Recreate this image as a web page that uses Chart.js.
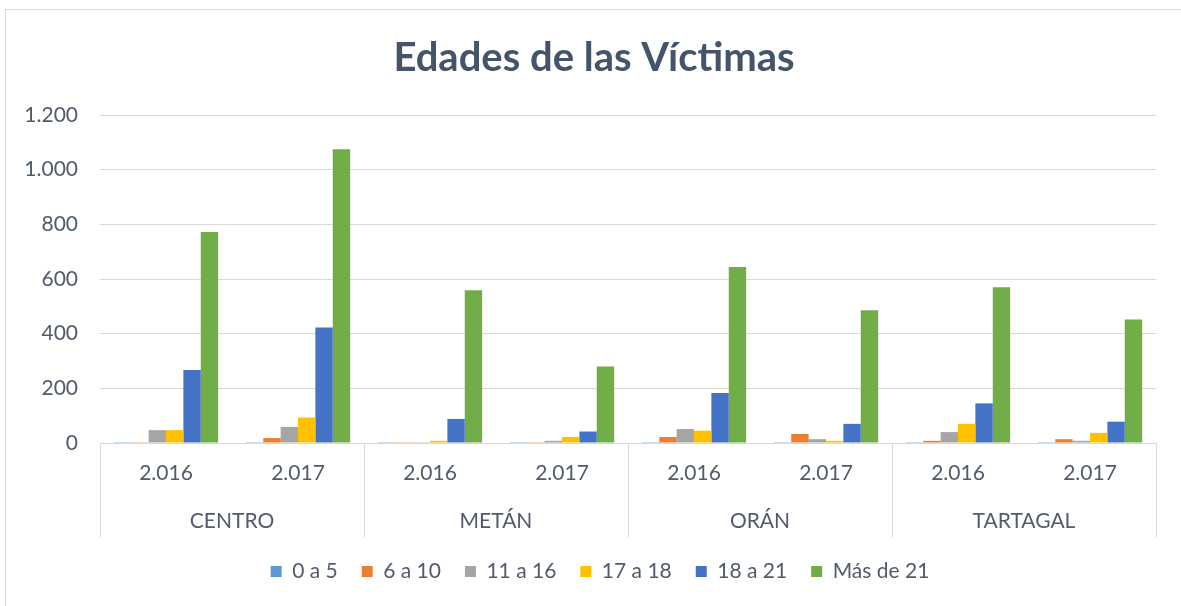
<!DOCTYPE html>
<html>
<head>
<meta charset="utf-8">
<script src="https://cdn.jsdelivr.net/npm/chart.js@4/dist/chart.umd.min.js"></script>
<style>
  html, body { margin: 0; padding: 0; background: #fff; }
  #wrap { width: 1181px; height: 606px; position: relative; }
</style>
</head>
<body>
<div id="wrap"><canvas id="edadesChart" width="1181" height="606"></canvas></div>
<script>
// data
var regiones = ["CENTRO", "METÁN", "ORÁN", "TARTAGAL"];
var anios = ["2.016", "2.017"];
var categorias = ["2.016", "2.017", "2.016", "2.017", "2.016", "2.017", "2.016", "2.017"];
var rangos = ["0 a 5", "6 a 10", "11 a 16", "17 a 18", "18 a 21", "Más de 21"];

var edad0a5   = [3, 3, 3, 3, 3, 3, 3, 3];
var edad6a10  = [3, 18, 3, 3, 22, 33, 8, 14];
var edad11a16 = [47, 59, 3, 8, 51, 14, 40, 8];
var edad17a18 = [47, 93, 8, 22, 45, 8, 70, 37];
var edad18a21 = [267, 423, 88, 42, 183, 70, 145, 78];
var edadMas21 = [772, 1075, 559, 280, 644, 486, 570, 452];

var yTicks = [0, 200, 400, 600, 800, 1000, 1200];

var colores = ["#5b9bd5", "#ed7d31", "#a5a5a5", "#ffc000", "#4472c4", "#70ad47"];
var series = [edad0a5, edad6a10, edad11a16, edad17a18, edad18a21, edadMas21];

var gridColor = "#d9d9d9";
var textColor = "#505c6b";
var fontFam = "Lato, 'Open Sans', sans-serif";

function fmtMiles(v){
	return String(v).replace(/\B(?=(\d{3})+(?!\d))/g, ".");
}

var datasets = rangos.map(function(r, i){
	return {
		label: r,
		data: series[i],
		backgroundColor: colores[i],
		borderWidth: 0,
		barPercentage: 1.0,
		categoryPercentage: 0.79,
		xAxisID: "x"
	};
});

// outer frame, group separators of the two level axis, small shift of title/legend
var marcoPlugin = {
	id: "marco",
	afterLayout: function(chart){
		var lg = chart.legend, tt = chart.titleBlock;
		if (lg){ lg.left += 13; lg.right += 13; }
		if (tt){ tt.left += 7; tt.right += 7; }
	},
	beforeDraw: function(chart){
		var c = chart.ctx;
		c.save();
		c.strokeStyle = gridColor;
		c.lineWidth = 1;
		c.strokeRect(5.5, 9.5, 1300, 700);
		c.restore();
	},
	afterDraw: function(chart){
		var x = chart.scales.x, x2 = chart.scales.x2;
		var c = chart.ctx;
		c.save();
		c.strokeStyle = gridColor;
		c.lineWidth = 1;
		var n = regiones.length;
		for (var i = 0; i <= n; i++){
			var px = Math.round(x.left + i * (x.right - x.left) / n) + 0.5;
			c.beginPath();
			c.moveTo(px, chart.chartArea.bottom);
			c.lineTo(px, x2.top + 50);
			c.stroke();
		}
		c.restore();
	}
};

var conf_bar = {
	type: "bar",
	data: {
		labels: categorias,
		datasets: datasets
	},
	options: {
		responsive: false,
		animation: false,
		layout: { padding: { left: 18, right: 25, top: 0, bottom: 14 } },
		plugins: {
			title: {
				display: true,
				text: "Edades de las Víctimas",
				color: "#44546a",
				font: { family: fontFam, size: 40, weight: "bold" },
				padding: { top: 34, bottom: 33 }
			},
			legend: {
				position: "bottom",
				labels: {
					color: textColor,
					font: { family: fontFam, size: 21 },
					boxWidth: 11,
					boxHeight: 11,
					padding: 24
				}
			},
			tooltip: { enabled: false }
		},
		scales: {
			x: {
				type: "category",
				grid: { display: false, drawTicks: false },
				border: { display: true, color: gridColor },
				ticks: {
					color: textColor,
					font: { family: fontFam, size: 21 },
					padding: 18,
					maxRotation: 0
				},
				afterFit: function(s){ s.height = 44; }
			},
			x2: {
				type: "category",
				labels: regiones,
				offset: true,
				grid: { display: false, drawTicks: false },
				border: { display: false },
				ticks: {
					color: textColor,
					font: { family: fontFam, size: 21 },
					padding: 22,
					maxRotation: 0
				},
				afterFit: function(s){ s.height = 50; }
			},
			y: {
				min: 0,
				max: 1200,
				afterBuildTicks: function(s){
					s.ticks = yTicks.map(function(v){ return { value: v }; });
				},
				grid: { color: gridColor, drawTicks: false },
				border: { display: false },
				ticks: {
					color: textColor,
					font: { family: fontFam, size: 21 },
					padding: 22,
					callback: function(v){ return fmtMiles(v); }
				},
				afterFit: function(s){ s.width = 82; }
			}
		}
	},
	plugins: [marcoPlugin]
};

var ctx = document.getElementById("edadesChart").getContext("2d");
var bar_chart = new Chart(ctx, conf_bar);
</script>
</body>
</html>
